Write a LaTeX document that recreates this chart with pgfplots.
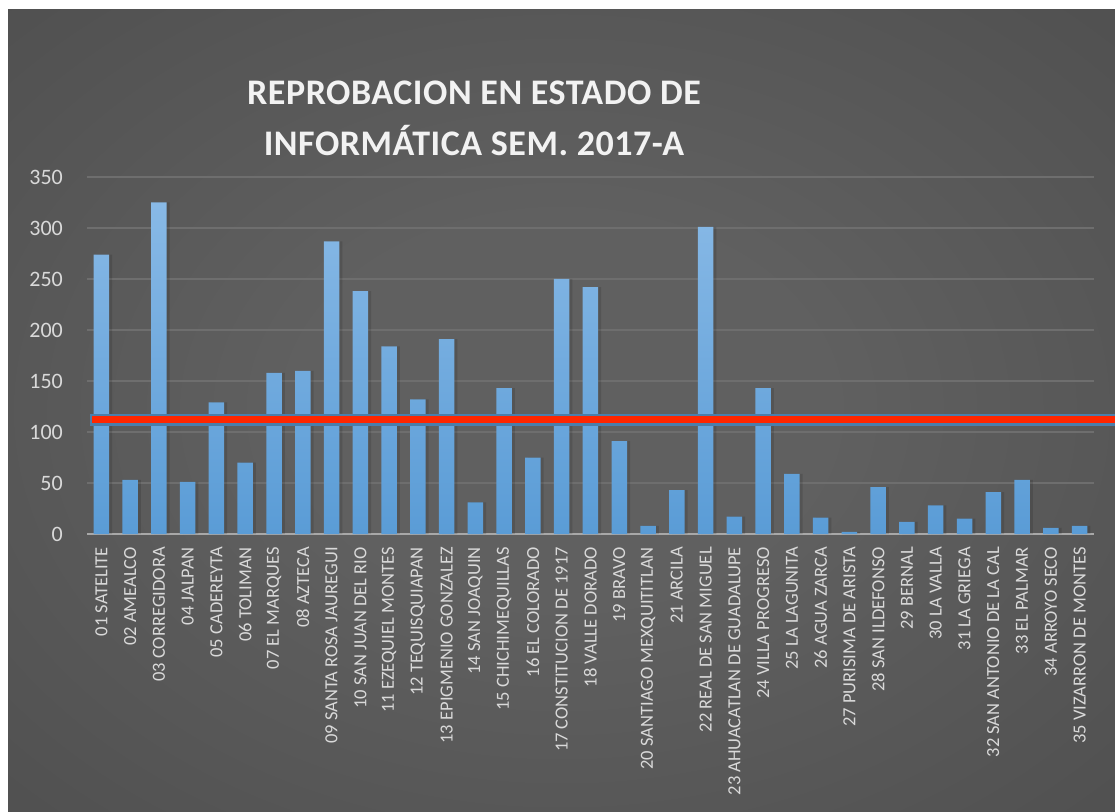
\documentclass[border=0pt]{standalone}
\usepackage{fontspec}
\setmainfont{Carlito}
\newfontfamily\titlefont[LetterSpace=1.5]{Carlito}
\usepackage{pgfplots}
\usepackage{pgfplotstable}
\pgfplotsset{compat=1.18}
\definecolor{bgc}{HTML}{606060}
\definecolor{bgo}{HTML}{383838}
\definecolor{gridcol}{HTML}{6E6E6E}
\definecolor{basecol}{HTML}{A8A8A8}
\definecolor{tickcol}{HTML}{D9D9D9}
\definecolor{titlecol}{HTML}{F2F2F2}
\definecolor{bartop}{HTML}{88B9E6}
\definecolor{barbot}{HTML}{5A9CD6}
\definecolor{linebl}{HTML}{4A7EAB}
\definecolor{linered}{HTML}{FF2600}
\pgfdeclareradialshading{bgshade}{\pgfpoint{0bp}{0bp}}{color(0bp)=(bgc); color(12bp)=(bgc); color(72bp)=(bgo)}
\pgfplotstableread{
x y
1 274
2 53
3 325
4 51
5 129
6 70
7 158
8 160
9 287
10 238
11 184
12 132
13 191
14 31
15 143
16 75
17 250
18 242
19 91
20 8
21 43
22 301
23 17
24 143
25 59
26 16
27 2
28 46
29 12
30 28
31 15
32 41
33 53
34 6
35 8
}\datatable
\begin{document}
\begin{tikzpicture}[x=1pt,y=1pt]
\useasboundingbox (0,0) rectangle (1115,811);
\fill[white] (0,0) rectangle (1115,811);
\shade[shading=bgshade] (8,0) rectangle (1115,801);
\begin{axis}[
  at={(87pt,277pt)}, anchor=south west,
  scale only axis, width=1007pt, height=357pt,
  xmin=0.5, xmax=35.5, ymin=0, ymax=350,
  clip=false,
  axis x line*=bottom, axis y line*=left,
  x axis line style={draw=basecol, line width=2.5pt},
  y axis line style={draw=none},
  major tick length=0pt,
  ytick={0,50,...,350},
  xtick={1,...,35},
  xticklabels={01 SATELITE,02 AMEALCO,03 CORREGIDORA,04 JALPAN,05 CADEREYTA,06 TOLIMAN,07 EL MARQUES,08 AZTECA,09 SANTA ROSA JAUREGUI,10 SAN JUAN DEL RIO,11 EZEQUIEL MONTES,12 TEQUISQUIAPAN,13 EPIGMENIO GONZALEZ,14 SAN JOAQUIN,15 CHICHIMEQUILLAS,16 EL COLORADO,17 CONSTITUCION DE 1917,18 VALLE DORADO,19 BRAVO,20 SANTIAGO MEXQUITITLAN,21 ARCILA,22 REAL DE SAN MIGUEL,23 AHUACATLAN DE GUADALUPE,24 VILLA PROGRESO,25 LA LAGUNITA,26 AGUA ZARCA,27 PURISIMA DE ARISTA,28 SAN ILDEFONSO,29 BERNAL,30 LA VALLA,31 LA GRIEGA,32 SAN ANTONIO DE LA CAL,33 EL PALMAR,34 ARROYO SECO,35 VIZARRON DE MONTES},
  ymajorgrids,
  grid style={draw=gridcol, line width=1.5pt},
  /pgf/number format/assume math mode=true,
  yticklabel style={font=\fontsize{22}{26}\selectfont, text=tickcol, inner sep=0pt, xshift=-24pt},
  xticklabel style={font=\fontsize{18.5}{22}\selectfont, text=tickcol, inner sep=0pt, yshift=-13pt, rotate=90, anchor=east},
]
\addplot[ybar, bar width=15.5pt, bar shift=3pt, draw=none, fill=black, fill opacity=0.12] table[x=x,y=y]{\datatable};
\addplot[ybar, bar width=15.5pt, bar shift=0pt, draw=none, top color=bartop, bottom color=barbot] table[x=x,y=y]{\datatable};
\addplot[draw=linebl, line width=12pt, line cap=butt] coordinates {(0.604,112) (36.5,112)};
\addplot[draw=linered, line width=7pt, line cap=butt] coordinates {(0.69,112) (36.5,112)};
\end{axis}
\node[anchor=base, text=titlecol] at (474,706) {\fontsize{36}{40}\selectfont\titlefont\bfseries REPROBACION EN ESTADO DE};
\node[anchor=base, text=titlecol] at (474,655) {\fontsize{36}{40}\selectfont\titlefont\bfseries INFORMÁTICA SEM. 2017-A};
\end{tikzpicture}
\end{document}
